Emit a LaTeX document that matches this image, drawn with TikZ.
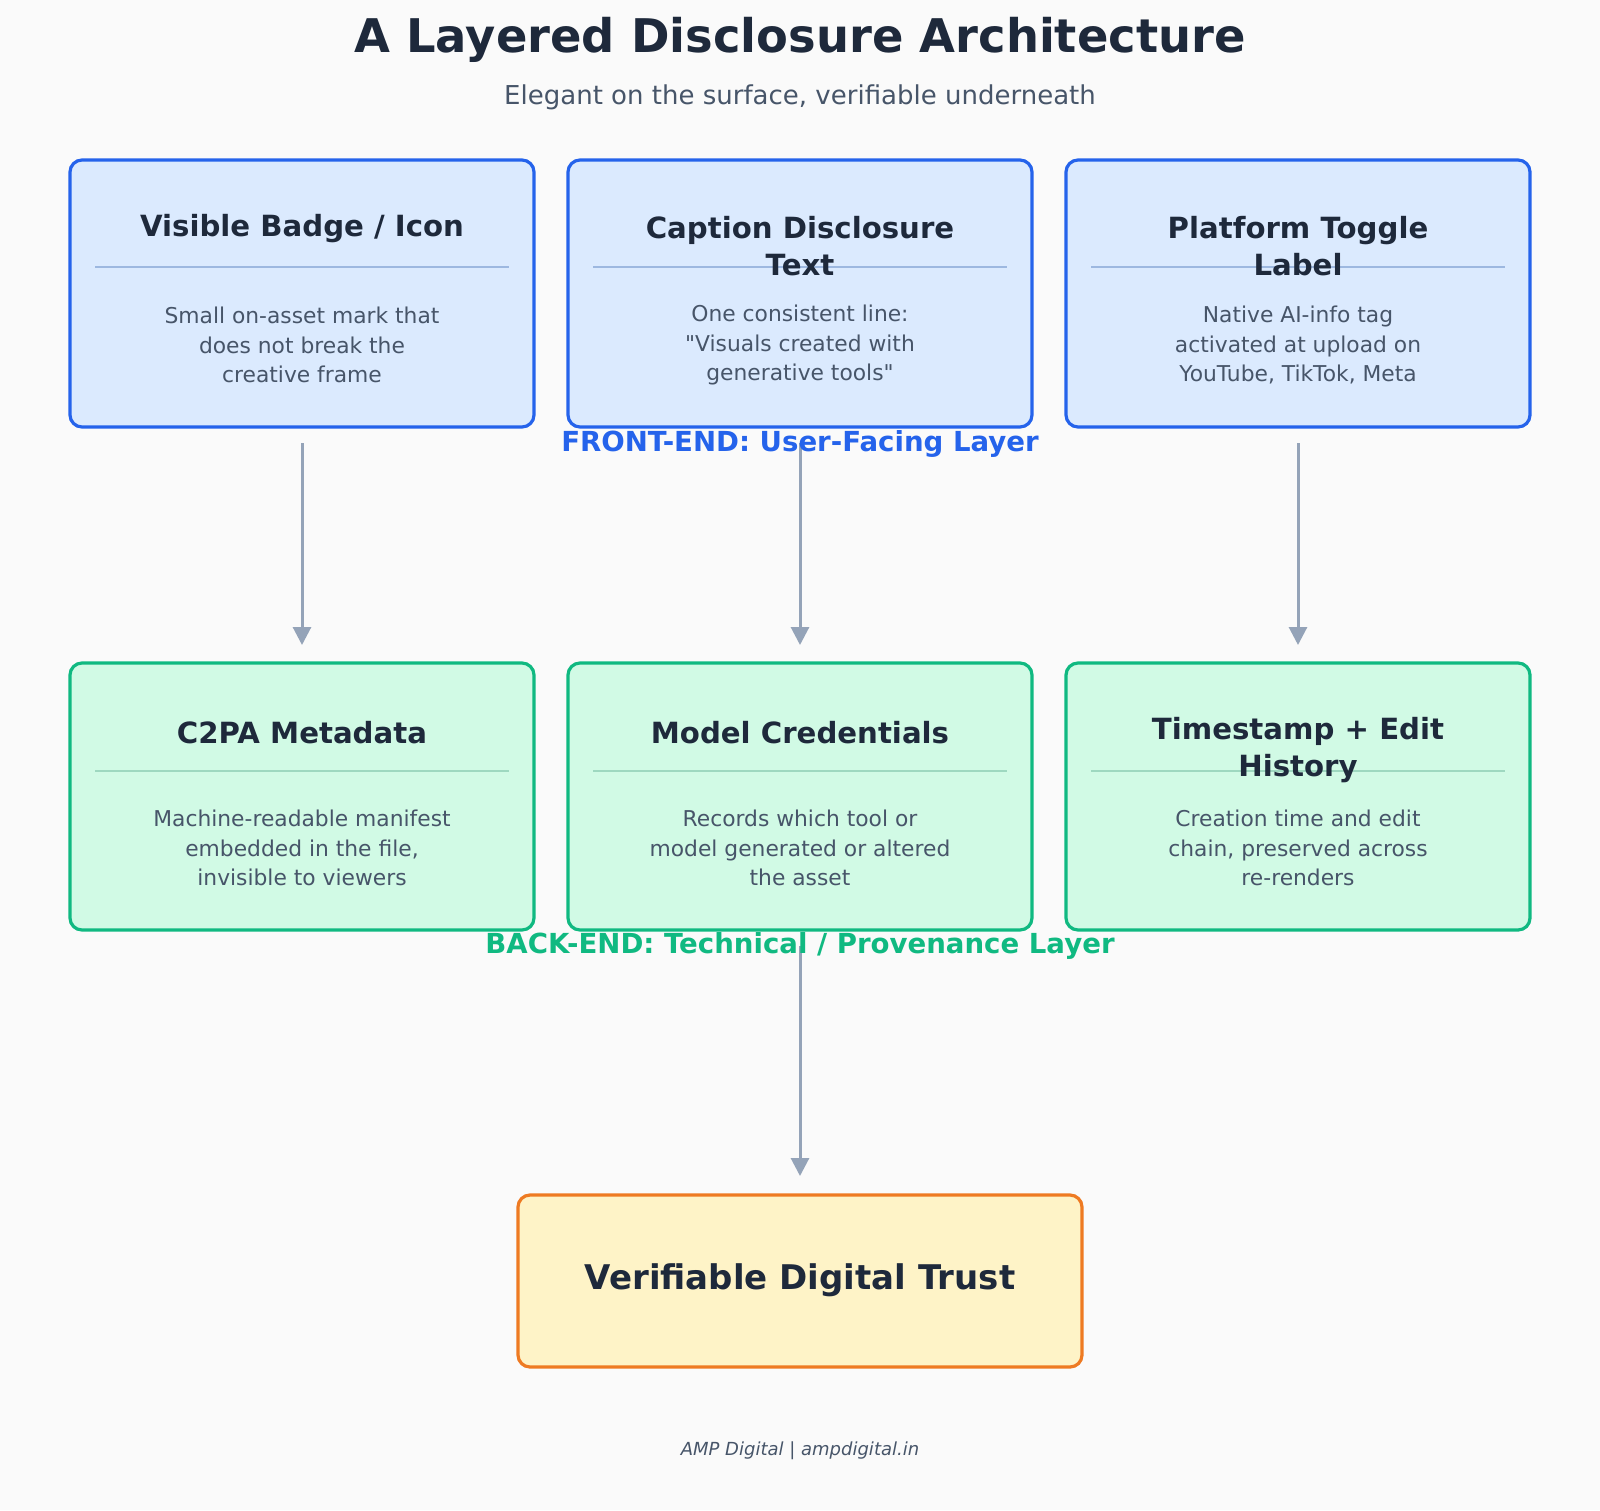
\documentclass[tikz,border=0pt]{standalone}
\usepackage{fontspec}
\setmainfont{DejaVu Sans}[Ligatures=TeXOff]
\usetikzlibrary{arrows.meta}
\definecolor{bg}{HTML}{FAFAFA}
\definecolor{dark}{HTML}{1E293B}
\definecolor{body}{HTML}{475569}
\definecolor{bb}{HTML}{2563EB}
\definecolor{bf}{HTML}{DBEAFE}
\definecolor{bl}{HTML}{9DB8E0}
\definecolor{gb}{HTML}{10B981}
\definecolor{gf}{HTML}{D1FAE5}
\definecolor{gl}{HTML}{9ED8C0}
\definecolor{ob}{HTML}{EE7A22}
\definecolor{of}{HTML}{FEF3C7}
\definecolor{ar}{HTML}{94A3B8}
\begin{document}
\begin{tikzpicture}[x=0.5pt,y=-0.5pt,
 box/.style={draw, line width=1.6pt, rounded corners=6pt},
 ttl/.style={text=dark, font=\fontsize{14.6}{18.5}\selectfont\bfseries, align=center},
 bod/.style={text=body, font=\fontsize{10.9}{14.75}\selectfont, align=center},
 lab/.style={font=\fontsize{13.8}{16}\selectfont\bfseries},
 arr/.style={draw=ar, line width=1.5pt, -{Triangle[length=9pt,width=9pt]}}]
\fill[bg] (0,0) rectangle (1600,1510);
\useasboundingbox (0,0) rectangle (1600,1510);
\node[text=dark, font=\fontsize{23.2}{28}\selectfont\bfseries] (title) at (800,40) {A Layered Disclosure Architecture};
\node[text=body, font=\fontsize{13}{16}\selectfont] (sub) at (800,97) {Elegant on the surface, verifiable underneath};
\foreach \cx/\n in {302/a,800/b,1298/c}{
  \draw[box, draw=bb, fill=bf] (\cx-232,160) rectangle (\cx+232,427);
  \draw[bl, line width=0.6pt] (\cx-207,267) -- (\cx+207,267);
  \coordinate (top\n) at (\cx,443);
  \coordinate (mid\n) at (\cx,645);
}
\foreach \cx/\n in {302/d,800/e,1298/f}{
  \draw[box, draw=gb, fill=gf] (\cx-232,663) rectangle (\cx+232,930);
  \draw[gl, line width=0.6pt] (\cx-207,771) -- (\cx+207,771);
}
\node[ttl] (t1) at (302,229) {Visible Badge / Icon};
\node[ttl] (t2) at (800,246) {Caption Disclosure\\Text};
\node[ttl] (t3) at (1298,246) {Platform Toggle\\Label};
\node[bod] (b1) at (302,345) {Small on-asset mark that\\does not break the\\creative frame};
\node[bod] (b2) at (800,345) {One consistent line:\\"Visuals created with\\generative tools"};
\node[bod] (b3) at (1298,345) {Native AI-info tag\\activated at upload on\\YouTube, TikTok, Meta};
\node[ttl] (t4) at (302,733) {C2PA Metadata};
\node[ttl] (t5) at (800,733) {Model Credentials};
\node[ttl] (t6) at (1298,750) {Timestamp + Edit\\History};
\node[bod] (b4) at (302,848) {Machine-readable manifest\\embedded in the file,\\invisible to viewers};
\node[bod] (b5) at (800,848) {Records which tool or\\model generated or altered\\the asset};
\node[bod] (b6) at (1298,848) {Creation time and edit\\chain, preserved across\\re-renders};
\draw[arr] (topa) -- (mida);
\draw[arr] (topb) -- (midb);
\draw[arr] (topc) -- (midc);
\coordinate (bk) at (800,946);
\coordinate (fin) at (800,1176);
\draw[arr] (bk) -- (fin);
\node[lab, text=bb] (fl) at (800,444) {FRONT-END: User-Facing Layer};
\node[lab, text=gb] (bl) at (800,946) {BACK-END: Technical / Provenance Layer};
\draw[box, draw=ob, fill=of] (518,1195) rectangle (1082,1367);
\node[text=dark, font=\fontsize{17}{20}\selectfont\bfseries] (trust) at (800,1280) {Verifiable Digital Trust};
\node[text=body, font=\fontsize{9}{11}\selectfont\itshape] (foot) at (800,1451) {AMP Digital | ampdigital.in};
\end{tikzpicture}
\end{document}
